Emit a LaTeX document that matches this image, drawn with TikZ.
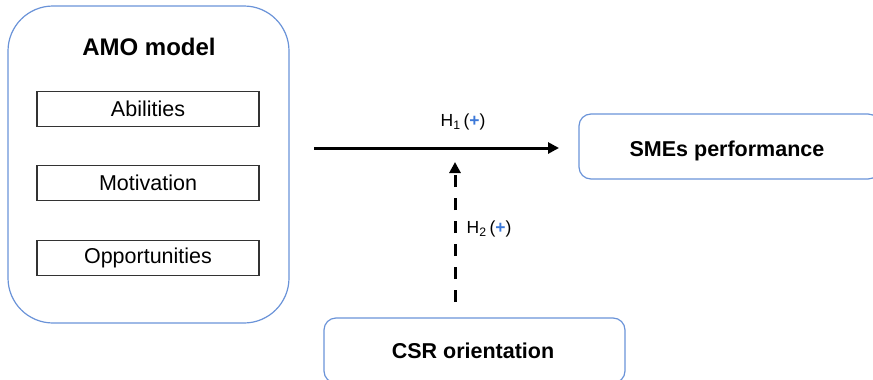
\documentclass[tikz,border=0pt]{standalone}
\usepackage{fontspec}
\setmainfont{Liberation Sans}
\usetikzlibrary{arrows.meta}
\definecolor{boxblue}{HTML}{6A93D8}
\definecolor{plusblue}{HTML}{3C78D8}
\definecolor{boxgray}{HTML}{333333}
\tikzset{
  bigbox/.style={draw=boxblue, line width=1.2pt, rounded corners=45pt},
  outbox/.style={draw=boxblue, line width=1.2pt, rounded corners=12pt, font=\fontsize{21.5}{24}\selectfont\bfseries},
  itembox/.style={draw=boxgray, line width=1.4pt, minimum width=222pt, minimum height=35pt, inner sep=0pt, font=\fontsize{21.5}{24}\selectfont},
  hyp/.style={font=\fontsize{17.5}{20}\selectfont, inner sep=0pt},
  arr/.style={line width=3pt, -{Triangle[length=11pt,width=11pt]}},
}
\newcommand{\plusb}{\textcolor{plusblue}{\bfseries +}}
\begin{document}
\begin{tikzpicture}[x=1pt,y=-1pt]
\useasboundingbox (0,0) rectangle (873,380);
\clip (0,0) rectangle (873,380);
\node[bigbox, minimum width=281pt, minimum height=317pt] (amo) at (148.5,164.5) {};
\node[font=\fontsize{24}{28}\selectfont\bfseries, inner sep=0pt] (amotitle) at (149,47) {AMO model};
\node[itembox] (abil) at (148,109) {Abilities};
\node[itembox] (motiv) at (148,183) {Motivation};
\node[itembox] (opp) at (148,258) {Opportunities};
\node[outbox, minimum width=301pt, minimum height=65pt] (sme) at (729.5,146.5) {};
\node[font=\fontsize{21.5}{24}\selectfont\bfseries, inner sep=0pt] (smetext) at (727,151) {SMEs performance};
\node[outbox, minimum width=301pt, minimum height=65pt] (csr) at (474.5,350.5) {};
\node[font=\fontsize{21.5}{24}\selectfont\bfseries, inner sep=0pt] (csrtext) at (473,351) {CSR orientation};
\coordinate (h1s) at (314,148);
\coordinate (h1e) at (559,148);
\draw[arr] (h1s) -- (h1e);
\node[hyp] (h1) at (463,122) {H\textsubscript{1}\,(\plusb)};
\coordinate (h2s) at (455,302);
\coordinate (h2e) at (455,162);
\draw[arr, dash pattern=on 12pt off 11pt] (h2s) -- (h2e);
\node[hyp] (h2) at (489,229) {H\textsubscript{2}\,(\plusb)};
\end{tikzpicture}
\end{document}
